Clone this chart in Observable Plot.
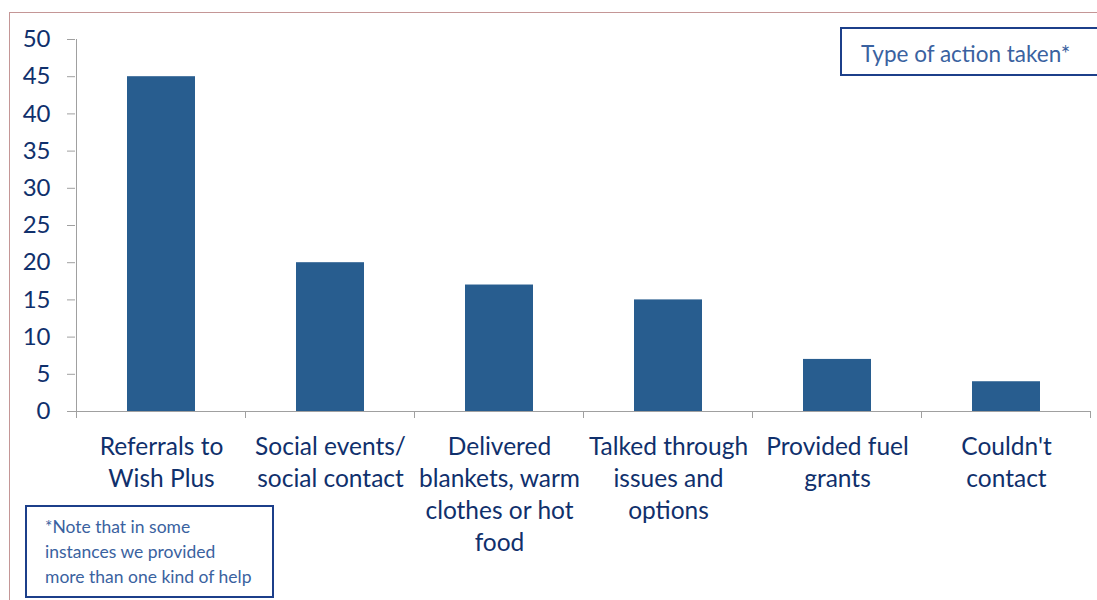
<!DOCTYPE html>
<html><head><meta charset="utf-8">
<script src="https://cdn.jsdelivr.net/npm/d3@7"></script>
<script src="https://cdn.jsdelivr.net/npm/@observablehq/plot@0.6"></script>
<style>
html,body{margin:0;padding:0;background:#fff;}
#wrap{position:relative;width:1097px;height:600px;overflow:hidden;font-family:Lato,"Open Sans",sans-serif;}
#outer{position:absolute;left:9px;top:12px;width:1200px;height:700px;border:1px solid #c49696;box-sizing:border-box;}
#legend{position:absolute;left:840px;top:27px;width:300px;height:49px;border:2px solid #1c3f8a;box-sizing:border-box;background:#fff;color:#3a62a0;font-size:22.5px;padding-left:19px;line-height:49px;}
#note{position:absolute;left:25px;top:505px;width:249px;height:93px;border:2px solid #1c3f8a;box-sizing:border-box;background:#fff;color:#3a62a0;font-size:17.5px;padding:7px 0 0 18px;line-height:25px;overflow:hidden;white-space:nowrap;}
#chart{position:absolute;left:0;top:0;}
</style></head>
<body><div id="wrap"><div id="outer"></div><div id="chart"></div>
<div id="legend">Type of action taken*</div>
<div id="note">*Note that in some<br>instances we provided<br>more than one kind of help</div>
</div>
<script>
const categories = ["Referrals to\nWish Plus","Social events/\nsocial contact","Delivered\nblankets, warm\nclothes or hot\nfood","Talked through\nissues and\noptions","Provided fuel\ngrants","Couldn't\ncontact"];
const values = [45, 20, 17, 15, 7, 4];
const yTicks = [0,5,10,15,20,25,30,35,40,45,50];
const data = categories.map((c,i)=>({cat:c, value:values[i]}));

function axisLines(index, scales, values, dims) {
  const x = scales.x;
  const n = categories.length;
  const step = typeof x.step === "function" ? x.step() : (dims.width - dims.marginLeft - dims.marginRight)/n;
  const bw = typeof x.bandwidth === "function" ? x.bandwidth() : 0;
  const y0 = scales.y(0);
  const yTop = scales.y(yTicks[yTicks.length-1]);
  const g = d3.create("svg:g").attr("stroke","#a0a0a0").attr("stroke-width",1).attr("shape-rendering","crispEdges");
  const xs = categories.map(c => x(c) + bw/2 - step/2);
  xs.push(x(categories[n-1]) + bw/2 + step/2);
  xs.forEach(v => g.append("line").attr("x1",v).attr("x2",v).attr("y1",y0).attr("y2",y0+7));
  g.append("line").attr("x1",xs[0]).attr("x2",xs[0]).attr("y1",yTop).attr("y2",y0);
  return g.node();
}

const plot = Plot.plot({
  width: 1097, height: 600,
  marginLeft: 75, marginRight: 6, marginTop: 39, marginBottom: 189,
  style: {fontFamily: "Lato, 'Open Sans', sans-serif", background: "transparent"},
  x: {domain: categories, paddingInner: 0.6, paddingOuter: 0.3, label: null},
  y: {domain: [0, 50], label: null},
  marks: [
    Plot.barY(data, {x: "cat", y: "value", fill: "#285d8f"}),
    Plot.axisY({ticks: yTicks, tickSize: 8, tickPadding: 17, fontSize: 24, fill: "#10306c", stroke: "#a0a0a0", strokeOpacity: 1, label: null}),
    Plot.axisX({tickSize: 0, tickPadding: 21, fontSize: 24.5, fill: "#10306c", lineHeight: 1.3, label: null}),
    Plot.ruleY([0], {stroke: "#a0a0a0"}),
    axisLines
  ]
});
document.getElementById("chart").appendChild(plot);
</script></body></html>
